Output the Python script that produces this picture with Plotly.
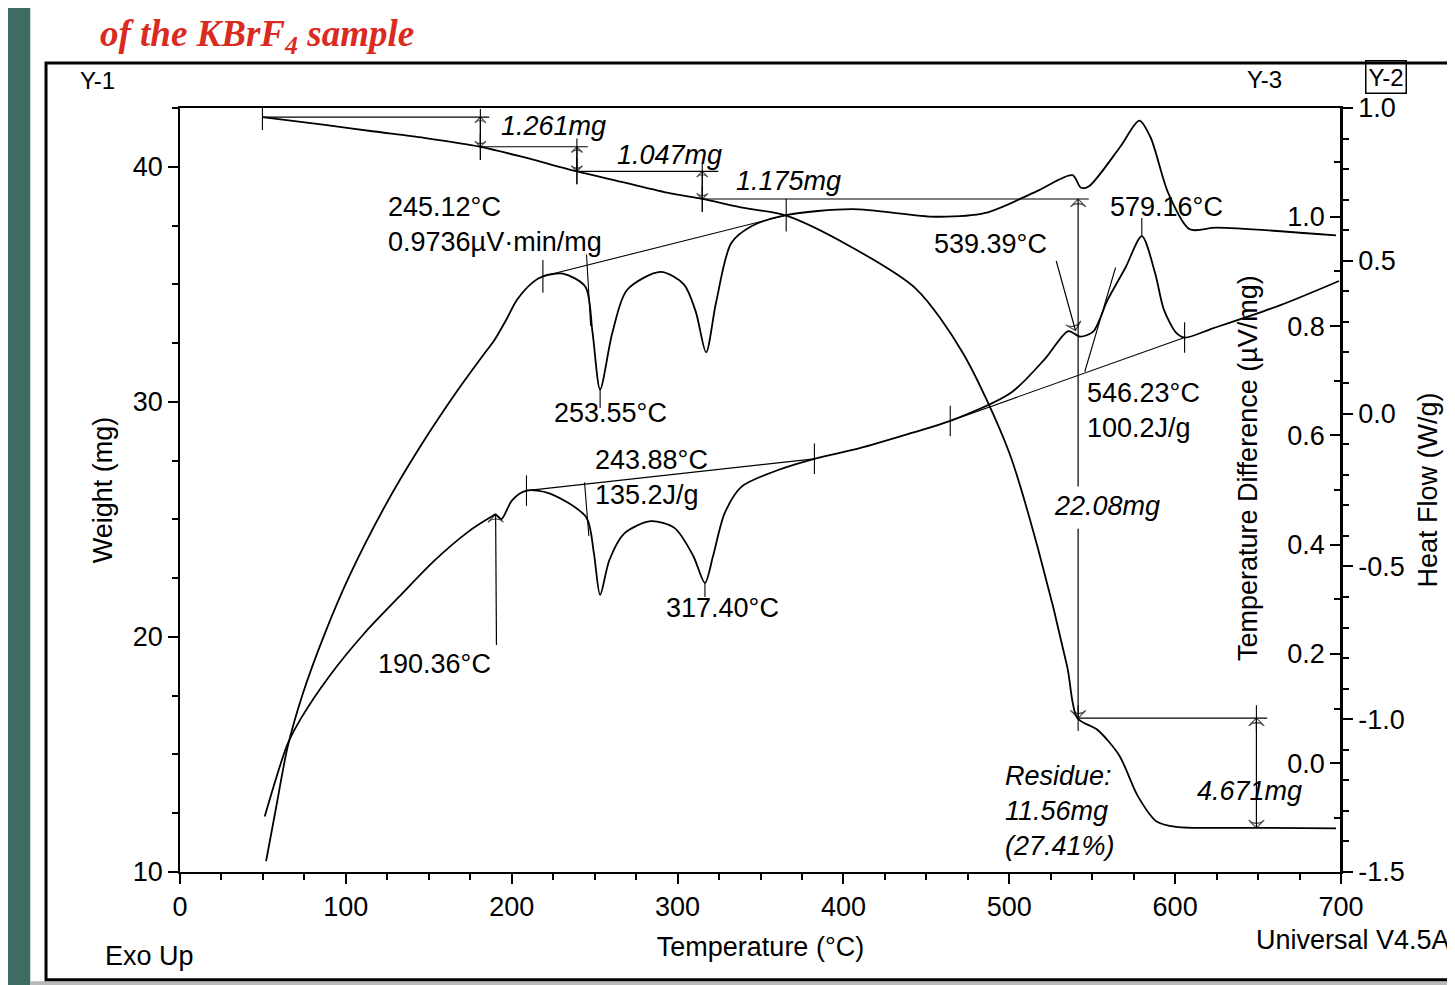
import plotly.graph_objects as go

FONT = "Liberation Sans, Arial, Helvetica, sans-serif"

# ---------------- data ----------------
# TGA weight curve (Y-1, mg)
temp_weight = [49.7, 87.4, 117.2, 147.1, 181.1, 206.6, 239.3, 266.1, 295.8, 314.9, 337.5,
               365.5, 404.4, 443.6, 472.1, 499.7, 517.3, 534.9, 541.0, 553.1, 566.3, 577.4,
               588.8, 600.7, 640.8, 697.0]
weight_mg = [42.11, 41.78, 41.50, 41.23, 40.85, 40.42, 39.80, 39.36, 38.87, 38.63, 38.28,
             37.92, 36.60, 34.82, 32.07, 27.89, 23.76, 18.74, 16.55, 16.05, 14.96, 13.24,
             12.15, 11.92, 11.88, 11.86]

# DTA curve (Y-3, temperature difference, uV/mg)
temp_dta = [51.9, 58.0, 64.9, 73.8, 87.0, 102.5, 124.4, 143.9, 165.0, 184.1, 189.1, 196.8,
            203.2, 212.7, 218.8, 230.9, 244.4, 248.7, 253.3, 260.7, 269.5, 289.8, 303.9,
            311.0, 317.2, 323.2, 332.4, 344.8, 365.5, 405.3, 455.5, 485.6, 516.1, 538.1,
            543.2, 548.1, 566.9, 578.4, 585.2, 595.9, 608.8, 625.1, 697.0]
dta_uv_mg = [-0.179, -0.080, 0.030, 0.125, 0.235, 0.345, 0.475, 0.575, 0.672, 0.752, 0.772,
             0.812, 0.848, 0.880, 0.891, 0.896, 0.872, 0.789, 0.684, 0.788, 0.866, 0.899,
             0.876, 0.826, 0.752, 0.843, 0.952, 0.983, 1.003, 1.014, 1.000, 1.007, 1.046,
             1.076, 1.053, 1.056, 1.128, 1.176, 1.145, 1.043, 0.977, 0.980, 0.966]

# DSC curve (Y-2, heat flow, W/g)
temp_dsc = [51.1, 64.9, 73.3, 90.5, 111.3, 132.0, 153.2, 173.7, 187.9, 190.3, 193.8, 200.3,
            208.9, 222.7, 244.9, 249.5, 253.3, 258.9, 267.9, 283.8, 298.1, 309.4, 316.5,
            321.4, 328.4, 338.6, 359.4, 382.5, 409.8, 440.1, 464.4, 501.2, 521.8, 535.6,
            542.7, 550.6, 559.2, 570.1, 579.9, 588.0, 593.1, 600.4, 605.7, 622.7, 663.5,
            698.8]
heat_flow_wg = [-1.318, -1.081, -0.994, -0.856, -0.718, -0.600, -0.482, -0.387, -0.337,
                -0.330, -0.345, -0.283, -0.252, -0.261, -0.339, -0.455, -0.593, -0.479,
                -0.392, -0.352, -0.374, -0.465, -0.554, -0.466, -0.326, -0.239, -0.187,
                -0.148, -0.113, -0.065, -0.024, 0.069, 0.181, 0.270, 0.252, 0.268, 0.371,
                0.478, 0.581, 0.458, 0.342, 0.266, 0.249, 0.279, 0.355, 0.434]

# axis ticks
temp_ticks = [0, 100, 200, 300, 400, 500, 600, 700]
weight_ticks = [10, 20, 30, 40]
heat_flow_ticks = [-1.5, -1.0, -0.5, 0.0, 0.5, 1.0]
heat_flow_labels = ["-1.5", "-1.0", "-0.5", "0.0", "0.5", "1.0"]
dta_ticks = [0.0, 0.2, 0.4, 0.6, 0.8, 1.0]

# weight-step analysis
start_temp = 49.7
start_weight = 42.11
step_temps = [181.1, 239.3, 314.9, 541.5, 649.0]
step_losses = [1.261, 1.047, 1.175, 22.08, 4.671]
level_line_ends = [186.5, 245.9, 324.5, 547.9, 655.5]
big_step_gap = [26.4, 24.6]

# integration baselines and onset tangents
dta_base_temp = [218.8, 365.5]
dta_base_val = [0.891, 1.003]
dsc_base1_temp = [208.9, 382.5]
dsc_base1_val = [-0.252, -0.148]
dsc_base2_temp = [464.4, 605.7]
dsc_base2_val = [-0.024, 0.249]
dta_tangent_temp = [245.1, 247.6]
dta_tangent_val = [0.931, 0.80]
dsc_tangent1_temp = [243.9, 246.5]
dsc_tangent1_val = [-0.225, -0.40]
dsc_tangent2_temp = [545.5, 564.1]
dsc_tangent2_val = [0.137, 0.478]

# ---------------- figure ----------------
levels = [start_weight]
for loss in step_losses:
    levels.append(levels[-1] - loss)

fig = go.Figure()
curve = dict(color="black", width=1.8, shape="spline", smoothing=0.8)
thin = dict(color="black", width=1.1)


def add(x, y, axis, line):
    fig.add_trace(go.Scatter(x=x, y=y, mode="lines", line=line, yaxis=axis,
                             showlegend=False, hoverinfo="skip"))


add(temp_weight, weight_mg, "y", curve)
add(temp_dta, dta_uv_mg, "y3", curve)
add(temp_dsc, heat_flow_wg, "y2", curve)

add(dta_base_temp, dta_base_val, "y3", thin)
add(dta_tangent_temp, dta_tangent_val, "y3", thin)
add(dsc_base1_temp, dsc_base1_val, "y2", thin)
add(dsc_base2_temp, dsc_base2_val, "y2", thin)
add(dsc_tangent1_temp, dsc_tangent1_val, "y2", thin)
add(dsc_tangent2_temp, dsc_tangent2_val, "y2", thin)

# weight level lines
lx, ly = [], []
starts = [start_temp] + step_temps[:4]
for k in range(5):
    lx += [starts[k], level_line_ends[k], None]
    ly += [levels[k], levels[k], None]
add(lx, ly, "y", thin)


def ticks(xs, ys, h):
    tx, ty = [], []
    for x, y in zip(xs, ys):
        tx += [x, x, None]
        ty += [y - h, y + h, None]
    return tx, ty


# cross marks on the analysis points
tx, ty = ticks([start_temp] + step_temps[:4] + [step_temps[4]],
               levels[:5] + [levels[4]], 0.55)
add(tx, ty, "y", thin)
for i in range(3):
    add([step_temps[i], step_temps[i]], [levels[i] + 0.35, levels[i + 1] - 0.55], "y", thin)
tx, ty = ticks(dta_base_temp, dta_base_val, 0.03)
add(tx, ty, "y3", thin)
tx, ty = ticks(dsc_base1_temp + dsc_base2_temp, dsc_base1_val + dsc_base2_val, 0.05)
add(tx, ty, "y2", thin)
add([253.3, 253.3], [0.684, 0.650], "y3", thin)
add([316.5, 316.5], [-0.554, -0.600], "y2", thin)
add([579.9, 579.9], [0.581, 0.640], "y2", thin)


def arrow(x_tail, y_tail, x_head, y_head, axis, size=11):
    fig.add_trace(go.Scatter(
        x=[x_tail, x_head], y=[y_tail, y_head], mode="lines+markers", yaxis=axis,
        line=dict(color="black", width=1.2),
        marker=dict(symbol="arrow-wide-open", size=[0, size], angleref="previous",
                    color="black", line=dict(color="black", width=1.2)),
        showlegend=False, hoverinfo="skip"))


def double_arrow(x, y_a, y_b, axis, size=11):
    mid = (y_a + y_b) / 2.0
    arrow(x, mid, x, y_a, axis, size)
    arrow(x, mid, x, y_b, axis, size)


for i in range(3):
    double_arrow(step_temps[i], levels[i], levels[i + 1], "y", size=8)
arrow(step_temps[3], big_step_gap[0], step_temps[3], levels[3], "y")
arrow(step_temps[3], big_step_gap[1], step_temps[3], levels[4], "y")
double_arrow(step_temps[4], levels[4], levels[5], "y")
arrow(190.8, -0.757, 190.3, -0.330, "y2")
arrow(528.3, 0.500, 539.9, 0.272, "y2")

annotations = []
labels = [
    ("<i>1.261mg</i>", 192.4, 41.73),
    ("<i>1.047mg</i>", 262.5, 40.52),
    ("<i>1.175mg</i>", 333.9, 39.39),
    ("245.12°C<br>0.9736µV·min/mg", 124.0, 37.53),
    ("539.39°C", 453.6, 36.71),
    ("579.16°C", 559.5, 38.28),
    ("253.55°C", 224.5, 29.52),
    ("243.88°C<br>135.2J/g", 248.9, 26.78),
    ("317.40°C", 292.0, 21.24),
    ("190.36°C", 118.4, 18.83),
    ("546.23°C<br>100.2J/g", 545.8, 29.62),
    ("<i>22.08mg</i>", 525.5, 25.57),
    ("<i>Residue:<br>11.56mg<br>(27.41%)</i>", 496.0, 12.6),
    ("<i>4.671mg</i>", 611.7, 13.46),
]
for txt, x, y in labels:
    annotations.append(dict(text=txt, x=x, y=y, xref="x", yref="y", xanchor="left",
                            yanchor="middle", align="left", showarrow=False,
                            font=dict(family=FONT, size=27, color="black")))


def paper_text(txt, x, y, xanchor="left", size=26, **kw):
    d = dict(text=txt, x=x, y=y, xref="paper", yref="paper", xanchor=xanchor,
             yanchor="middle", showarrow=False, font=dict(family=FONT, size=size, color="black"))
    d.update(kw)
    annotations.append(d)


paper_text("Temperature Difference (µV/mg)", 0.92, 0.529, xanchor="center", size=27, textangle=-90)
paper_text("Y-1", -0.088, 1.036, size=24)
paper_text("Y-3", 0.9345, 1.037, xanchor="center", size=24)
paper_text("Y-2", 1.0388, 1.040, xanchor="center", size=24, bordercolor="black",
           borderwidth=1.5, borderpad=2)
paper_text("Exo Up", -0.066, -0.110, size=27)
paper_text("Universal V4.5A", 1.096, -0.089, xanchor="right", size=27)
annotations.append(dict(text="<b><i>of the KBrF<sub>4</sub> sample</i></b>", x=-0.0706, y=1.127,
                        xref="paper", yref="paper", xanchor="left", yanchor="top",
                        showarrow=False,
                        font=dict(family="Liberation Serif, Times New Roman, serif", size=37,
                                  color="#d92b1f")))

shapes = [
    dict(type="rect", xref="paper", yref="paper", x0=-0.2, x1=-0.129, y0=-0.3, y1=1.3,
         fillcolor="#3d6c62", line=dict(width=0), layer="below"),
    dict(type="rect", xref="paper", yref="paper", x0=-0.129, x1=1.2, y0=-0.3, y1=-0.143,
         fillcolor="#b9b9b9", line=dict(width=0), layer="below"),
    dict(type="rect", xref="paper", yref="paper", x0=-0.1154, x1=1.098, y0=-0.141, y1=1.059,
         line=dict(color="black", width=3), fillcolor="rgba(0,0,0,0)", layer="below"),
]

axis_common = dict(showgrid=False, zeroline=False, showline=True, linecolor="black",
                   linewidth=1.8, tickcolor="black", tickwidth=1.5, ticklen=10,
                   tickfont=dict(family=FONT, size=27, color="black"))

fig.update_layout(
    width=1455, height=985,
    margin=dict(l=172, r=122, t=100, b=121),
    paper_bgcolor="white", plot_bgcolor="white",
    font=dict(family=FONT, size=27, color="black"),
    showlegend=False,
    annotations=annotations,
    shapes=shapes,
    xaxis=dict(range=[0, 700], tickmode="array", tickvals=temp_ticks,
               ticktext=[str(t) for t in temp_ticks], ticks="outside", mirror=True,
               minor=dict(dtick=25, tick0=0, ticks="outside", ticklen=6, tickcolor="black"),
               title=dict(text="Temperature (°C)", standoff=16,
                          font=dict(family=FONT, size=27)), **axis_common),
    yaxis=dict(range=[10, 42.5], tickmode="array", tickvals=weight_ticks,
               ticktext=[str(t) for t in weight_ticks], ticks="outside",
               minor=dict(dtick=2.5, tick0=10, ticks="outside", ticklen=6, tickcolor="black"),
               title=dict(text="Weight (mg)", standoff=12, font=dict(family=FONT, size=27)),
               **axis_common),
    yaxis2=dict(overlaying="y", side="right", anchor="x", range=[-1.5, 1.0], tickmode="array",
                tickvals=heat_flow_ticks, ticktext=heat_flow_labels, ticks="outside",
                minor=dict(dtick=0.1, tick0=0, ticks="outside", ticklen=6, tickcolor="black"),
                title=dict(text="Heat Flow (W/g)", standoff=14, font=dict(family=FONT, size=27)),
                **axis_common),
    yaxis3=dict(overlaying="y", side="left", anchor="free", position=1.0,
                range=[-0.199, 1.199], tickmode="array", tickvals=dta_ticks,
                ticktext=["%.1f" % t for t in dta_ticks], ticks="outside",
                minor=dict(dtick=0.1, tick0=0, ticks="outside", ticklen=6, tickcolor="black"),
                **axis_common),
)

fig.write_html("out.html")
